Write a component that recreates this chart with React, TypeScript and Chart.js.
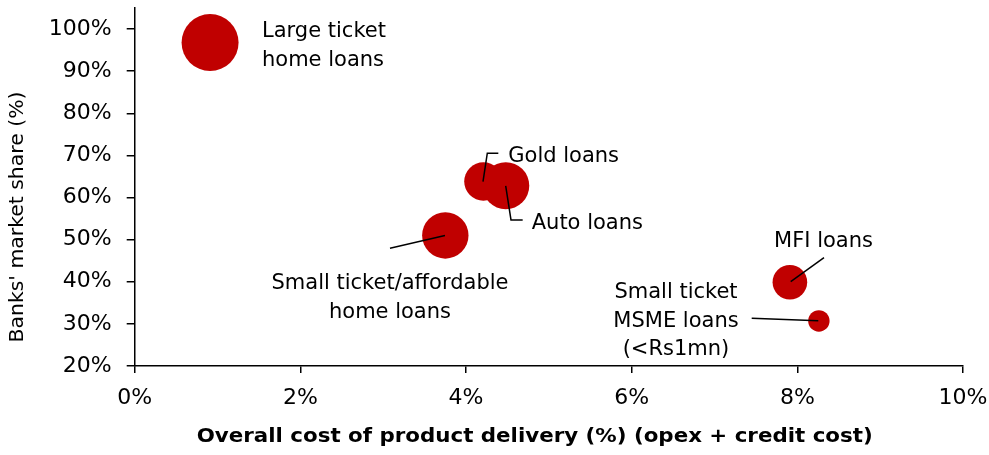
import React, { useEffect, useRef } from "react";
import { Chart, registerables } from "chart.js";

Chart.register(...registerables);

// ---- data ----
const products = [
  "Large ticket home loans",
  "Gold loans",
  "Auto loans",
  "Small ticket/affordable home loans",
  "MFI loans",
  "Small ticket MSME loans (<Rs1mn)",
];
const deliveryCost = [0.91, 4.21, 4.48, 3.75, 7.91, 8.26]; // x, %
const bankShare = [96.8, 63.8, 62.8, 51.0, 39.9, 30.7]; // y, %
const bubbleSize = [28.5, 19.2, 23.5, 23.2, 17.3, 10.7]; // bubble radius
const xTickValues = [0, 2, 4, 6, 8, 10];
const yTickValues = [20, 30, 40, 50, 60, 70, 80, 90, 100];

const xTitle = "Overall cost of product delivery (%) (opex + credit cost)";
const yTitle = "Banks' market share (%)";

// label text blocks, anchored in data units (first baseline)
const labelLines = [
  ["Large ticket", "home loans"],
  ["Gold loans"],
  ["Auto loans"],
  ["Small ticket/affordable", "home loans"],
  ["MFI loans"],
  ["Small ticket", "MSME loans", "(<Rs1mn)"],
];
const labelX = [1.537, 4.51, 4.793, 3.082, 8.316, 6.535];
const labelY = [98.0, 68.54, 52.55, 38.22, 48.2, 36.08];
const labelAlign = ["left", "left", "left", "center", "center", "center"];

// leader lines, in data units
const leaderLines: number[][][] = [
  [[4.205, 63.79], [4.257, 70.53], [4.39, 70.53]],
  [[4.479, 62.77], [4.543, 54.69], [4.684, 54.69]],
  [[3.746, 50.96], [3.082, 47.96]],
  [[7.92, 40.03], [8.322, 45.73]],
  [[7.449, 31.33], [8.253, 30.76]],
];

const FONT = "'DejaVu Sans', 'Open Sans', sans-serif";
const RED = "#C00000";

function fitText(ctx: any, text: string, x: number, y: number, width: number) {
  const w = ctx.measureText(text).width;
  ctx.save();
  ctx.translate(x, y);
  ctx.scale(width / w, 1);
  ctx.fillText(text, 0, 0);
  ctx.restore();
}

const labelPlugin = {
  id: "bubbleLabels",
  afterDatasetsDraw(chart: any) {
    const { ctx, scales, chartArea } = chart;
    const x = scales.x;
    const y = scales.y;
    ctx.save();
    ctx.strokeStyle = "#000";
    ctx.lineWidth = 1.5;
    leaderLines.forEach((pts) => {
      ctx.beginPath();
      pts.forEach(([dx, dy], i) => {
        const px = x.getPixelForValue(dx);
        const py = y.getPixelForValue(dy);
        if (i === 0) ctx.moveTo(px, py);
        else ctx.lineTo(px, py);
      });
      ctx.stroke();
    });
    ctx.fillStyle = "#000";
    ctx.font = `21px ${FONT}`;
    ctx.textBaseline = "alphabetic";
    labelLines.forEach((lines, i) => {
      ctx.textAlign = labelAlign[i];
      const px = x.getPixelForValue(labelX[i]);
      const py = y.getPixelForValue(labelY[i]);
      lines.forEach((t, j) => ctx.fillText(t, px, py + j * 28.5));
    });
    // axis titles
    ctx.textAlign = "center";
    ctx.textBaseline = "middle";
    ctx.font = `bold 20px ${FONT}`;
    fitText(ctx, xTitle, chartArea.left + 400, chartArea.bottom + 71, 676);
    ctx.save();
    ctx.translate(18, chartArea.bottom - 149);
    ctx.rotate(-Math.PI / 2);
    ctx.font = `20px ${FONT}`;
    fitText(ctx, yTitle, 0, 0, 251);
    ctx.restore();
    ctx.restore();
  },
};

export default function App() {
  const ref = useRef<HTMLCanvasElement>(null);
  useEffect(() => {
    if (!ref.current) return;
    const chart = new Chart(ref.current, {
      type: "bubble",
      data: {
        datasets: [
          {
            label: "Products",
            data: products.map((_, i) => ({
              x: deliveryCost[i],
              y: bankShare[i],
              r: bubbleSize[i],
            })),
            backgroundColor: RED,
            borderColor: RED,
            borderWidth: 0,
            hoverRadius: 0,
          },
        ],
      },
      options: {
        animation: false,
        responsive: true,
        maintainAspectRatio: false,
        layout: { autoPadding: false, padding: { left: 0, right: 26, top: 8, bottom: 0 } },
        plugins: {
          legend: { display: false },
          tooltip: { enabled: false },
        },
        scales: {
          x: {
            type: "linear",
            min: 0,
            max: 10,
            afterBuildTicks: (s: any) => {
              s.ticks = xTickValues.map((v) => ({ value: v }));
            },
            afterFit: (s: any) => {
              s.height = 89;
              s.paddingLeft = 0;
              s.paddingRight = 0;
            },
            ticks: {
              callback: (v: any) => v + "%",
              color: "#000",
              font: { family: FONT, size: 22 },
              padding: 12,
              maxRotation: 0,
            },
            grid: {
              drawOnChartArea: false,
              drawTicks: true,
              tickLength: 7,
              color: "#000",
              lineWidth: 1.5,
            },
            border: { display: true, color: "#000", width: 1.5 },
          },
          y: {
            type: "linear",
            min: 20,
            max: 105,
            afterBuildTicks: (s: any) => {
              s.ticks = yTickValues.map((v) => ({ value: v }));
            },
            afterFit: (s: any) => {
              s.width = 134.7;
              s.paddingTop = 0;
              s.paddingBottom = 0;
            },
            ticks: {
              callback: (v: any) => v + "%",
              color: "#000",
              font: { family: FONT, size: 22 },
              padding: 15,
            },
            grid: {
              drawOnChartArea: false,
              drawTicks: true,
              tickLength: 8,
              color: "#000",
              lineWidth: 1.5,
            },
            border: { display: true, color: "#000", width: 1.5 },
          },
        },
      },
      plugins: [labelPlugin],
    });
    return () => chart.destroy();
  }, []);
  return (
    <div style={{ position: "fixed", left: 0, top: 0, width: 989, height: 455, background: "#fff" }}>
      <canvas ref={ref} />
    </div>
  );
}
